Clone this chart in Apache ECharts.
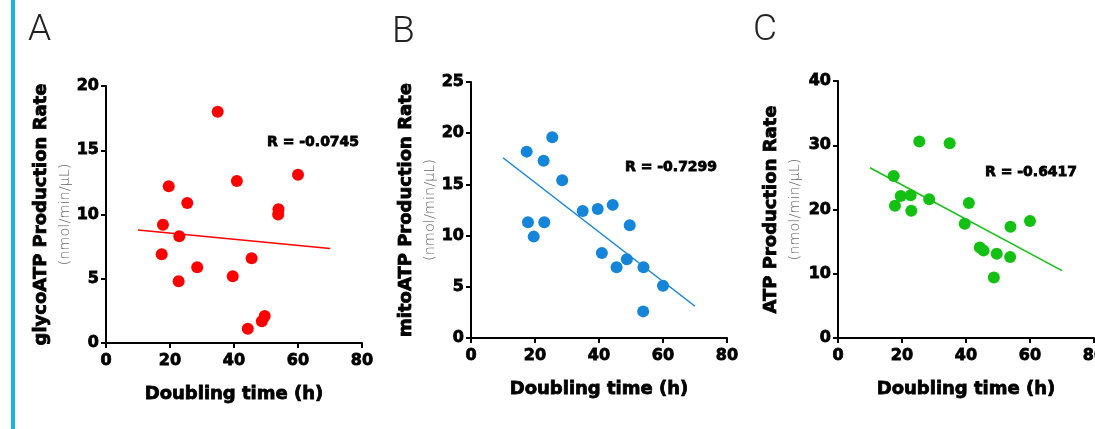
<!DOCTYPE html>
<html>
<head>
<meta charset="utf-8">
<script src="https://cdn.jsdelivr.net/npm/echarts@6/dist/echarts.min.js"></script>
<style>
html,body{margin:0;padding:0;background:#fff;}
#chart{width:1095px;height:429px;}
</style>
</head>
<body>
<div id="chart"></div>
<script>
// Shared x values: doubling time (h) for each cell line
const doublingTime = [17.4, 17.8, 19.6, 22.7, 22.9, 25.4, 28.5, 34.9, 39.6, 40.9, 44.3, 45.5, 48.7, 49.6, 53.8, 53.9, 60.0];
// Panel A: glycoATP production rate
const glycoATP = [6.9, 9.2, 12.2, 4.8, 8.3, 10.9, 5.9, 18.0, 5.2, 12.6, 1.1, 6.6, 1.7, 2.1, 10.0, 10.4, 13.1];
// Panel B: mitoATP production rate
const mitoATP = [18.2, 11.3, 9.9, 17.3, 11.3, 19.6, 15.4, 12.4, 12.6, 8.3, 13.0, 6.9, 7.7, 11.0, 2.6, 6.9, 5.1];
// Panel C: total ATP production rate
const totalATP = [25.2, 20.6, 22.1, 22.2, 19.8, 30.6, 21.6, 30.3, 17.8, 21.0, 14.1, 13.6, 9.4, 13.1, 12.6, 17.3, 18.2];
// Fitted regression lines (end points)
const fitX = [10, 70];
const fitA = [8.8, 7.35];
const fitB = [17.6, 3.1];
const fitC = [26.5, 10.5];
// Labels
const panelLetters = ['A', 'B', 'C'];
const rLabels = ['R = -0.0745', 'R = -0.7299', 'R = -0.6417'];
const yTitles = ['glycoATP Production Rate', 'mitoATP Production Rate', 'ATP Production Rate'];
const yUnit = '(nmol/min/μL)';
const xTitle = 'Doubling time (h)';
const yMax = [20, 25, 40];
const yStep = [5, 5, 10];

const colors = ['#ff0000', '#1485d8', '#13c013'];
const values = [glycoATP, mitoATP, totalATP];
const fits = [fitA, fitB, fitC];

const grids = [
  {left: 106, top: 86, width: 256, height: 257, outerBoundsMode: 'none', containLabel: false},
  {left: 471, top: 82, width: 256, height: 256, outerBoundsMode: 'none', containLabel: false},
  {left: 838, top: 81, width: 256, height: 257, outerBoundsMode: 'none', containLabel: false}
];
const yNameGap = [22, 30, 33];
const letterPos = [{left: 28, top: 12}, {left: 392, top: 14}, {left: 753, top: 12}];
const rPos = [{left: 267, top: 135}, {left: 625, top: 160}, {left: 985, top: 165}];

const bold = 'DejaVu Sans';
const heavy = {textBorderColor: '#000', textBorderWidth: 0.8};
const xAxes = [], yAxes = [], series = [], titles = [];
for (let i = 0; i < 3; i++) {
  xAxes.push({
    gridIndex: i, type: 'value', min: 0, max: 80, interval: 20,
    name: xTitle, nameLocation: 'middle', nameGap: 42,
    nameTextStyle: Object.assign({fontFamily: bold, fontWeight: 'bold', fontSize: 18, color: '#000'}, heavy),
    axisLine: {show: true, lineStyle: {color: '#000', width: 2}},
    axisTick: {show: true, length: 5, lineStyle: {color: '#000', width: 2}},
    axisLabel: Object.assign({margin: 10, fontFamily: bold, fontWeight: 'bold', fontSize: 16, color: '#000'}, heavy),
    splitLine: {show: false}
  });
  yAxes.push({
    gridIndex: i, type: 'value', min: 0, max: yMax[i], interval: yStep[i],
    name: '{t|' + yTitles[i] + '}\n{s|' + yUnit + '}',
    nameLocation: 'middle', nameRotate: 90, nameGap: yNameGap[i],
    nameTextStyle: {
      rich: {
        t: Object.assign({fontFamily: bold, fontWeight: 'bold', fontSize: 18, color: '#000', lineHeight: 28}, heavy),
        s: {fontFamily: 'DejaVu Sans', fontWeight: 'lighter', fontSize: 14.5, color: '#666', lineHeight: 20}
      }
    },
    axisLine: {show: true, lineStyle: {color: '#000', width: 2}},
    axisTick: {show: true, length: 5, lineStyle: {color: '#000', width: 2}},
    axisLabel: Object.assign({margin: 7, fontFamily: bold, fontWeight: 'bold', fontSize: 16, color: '#000'}, heavy),
    splitLine: {show: false}
  });
  series.push({
    type: 'line', xAxisIndex: i, yAxisIndex: i,
    data: fitX.map((x, k) => [x, fits[i][k]]),
    showSymbol: false, symbol: 'none',
    lineStyle: {color: colors[i], width: 1.5}, silent: true, z: 2
  });
  series.push({
    type: 'scatter', xAxisIndex: i, yAxisIndex: i,
    data: doublingTime.map((x, k) => [x, values[i][k]]),
    symbolSize: 12, itemStyle: {color: colors[i], opacity: 1}, z: 3
  });
  titles.push({
    text: panelLetters[i], left: letterPos[i].left, top: letterPos[i].top, padding: 0,
    textStyle: {fontFamily: 'Roboto', fontWeight: 300, fontSize: 37, color: '#222'}
  });
  titles.push({
    text: rLabels[i], left: rPos[i].left, top: rPos[i].top, padding: 0,
    textStyle: Object.assign({fontFamily: bold, fontWeight: 'bold', fontSize: 14, color: '#000'}, heavy)
  });
}

const chart = echarts.init(document.getElementById('chart'), null, {renderer: 'canvas'});
chart.setOption({
  animation: false,
  backgroundColor: '#fff',
  title: titles,
  grid: grids,
  xAxis: xAxes,
  yAxis: yAxes,
  series: series,
  graphic: [{
    type: 'rect', left: 11, top: 0,
    shape: {width: 4, height: 429},
    style: {fill: '#1bb3e0'}
  }]
});
</script>
</body>
</html>
